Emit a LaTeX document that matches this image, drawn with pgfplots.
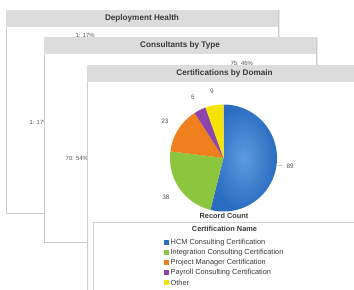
\documentclass[border=0pt]{standalone}
\usepackage{pgfplots}
\pgfplotsset{compat=1.18}
\usepackage{pgfplotstable}
\usepackage{fontspec}
\setmainfont{Liberation Sans}
\definecolor{hcm}{HTML}{2A6CC0}
\definecolor{hcmlight}{HTML}{5A9BE0}
\definecolor{integ}{HTML}{8CC63F}
\definecolor{proj}{HTML}{F07F1E}
\definecolor{pay}{HTML}{8E44AD}
\definecolor{other}{HTML}{F5E400}
\definecolor{titlegray}{HTML}{DCDCDC}
\definecolor{txt}{HTML}{3A3A3A}
\definecolor{lbl}{HTML}{555555}
\pgfplotstableread{
name value
HCM 89
Integration 38
Project 23
Payroll 6
Other 9
}\certtable
\pgfplotstablegetelem{0}{value}\of\certtable\let\vA\pgfplotsretval
\pgfplotstablegetelem{1}{value}\of\certtable\let\vB\pgfplotsretval
\pgfplotstablegetelem{2}{value}\of\certtable\let\vC\pgfplotsretval
\pgfplotstablegetelem{3}{value}\of\certtable\let\vD\pgfplotsretval
\pgfplotstablegetelem{4}{value}\of\certtable\let\vE\pgfplotsretval
\pgfmathsetmacro\tot{\vA+\vB+\vC+\vD+\vE}
\pgfmathsetmacro\aA{90-360*(\vA/\tot)}
\pgfmathsetmacro\aB{\aA-360*(\vB/\tot)}
\pgfmathsetmacro\aC{\aB-360*(\vC/\tot)}
\pgfmathsetmacro\aD{\aC-360*(\vD/\tot)}
\pgfmathsetmacro\aE{\aD-360*(\vE/\tot)}
\newcommand\panel[5]{%
  \fill[gray!18] (#1+1.5,#4-1.5) rectangle (#2+1.5,#3-1.5);
  \filldraw[fill=white, draw=gray!40, line width=0.5pt] (#1,#4) rectangle (#2,#3);
  \fill[titlegray] (#1+0.3,#3-0.3) rectangle (#2-0.3,#3-17);
  \node[font=\fontsize{8.2}{9.5}\selectfont\bfseries, text=txt] at ({(#1+#2)/2},#3-8.5) {#5};
}
\begin{document}
\begin{tikzpicture}[x=1bp,y=1bp]
\useasboundingbox (0,0) rectangle (354,290);
\begin{pgfinterruptboundingbox}
\begin{scope}
\clip (0,0) rectangle (354,290);
\fill[white] (0,0) rectangle (354,290);
% panel 1
\panel{6}{278}{280}{77}{Deployment Health}
\node[font=\fontsize{6}{7}\selectfont, text=lbl, anchor=west] at (72,255) {1: 17\%};
\node[font=\fontsize{6}{7}\selectfont, text=lbl, anchor=west] at (26,168) {1: 17\%};
% panel 2
\panel{44}{316}{253}{48}{Consultants by Type}
\node[font=\fontsize{6}{7}\selectfont, text=lbl, anchor=west] at (227,227) {75: 46\%};
\node[font=\fontsize{6}{7}\selectfont, text=lbl, anchor=west] at (62,132) {70: 54\%};
% panel 3
\panel{87}{362}{225}{-5}{Certifications by Domain}
\begin{axis}[at={(0,0)}, anchor=south west, scale only axis,
  width=354bp, height=290bp, xmin=0, xmax=354, ymin=0, ymax=290,
  hide axis, clip=false]
\addplot[draw=none, inner color=hcmlight, outer color=hcm, domain=\aA:90, samples=90, variable=\t]
  ({223.5+53.5*cos(\t)},{132+53.5*sin(\t)}) -- (axis cs:223.5,132) -- cycle;
\addplot[draw=none, fill=integ, domain=\aB:\aA, samples=50, variable=\t]
  ({223.5+53.5*cos(\t)},{132+53.5*sin(\t)}) -- (axis cs:223.5,132) -- cycle;
\addplot[draw=none, fill=proj, domain=\aC:\aB, samples=40, variable=\t]
  ({223.5+53.5*cos(\t)},{132+53.5*sin(\t)}) -- (axis cs:223.5,132) -- cycle;
\addplot[draw=none, fill=pay, domain=\aD:\aC, samples=20, variable=\t]
  ({223.5+53.5*cos(\t)},{132+53.5*sin(\t)}) -- (axis cs:223.5,132) -- cycle;
\addplot[draw=none, fill=other, domain=\aE:\aD, samples=20, variable=\t]
  ({223.5+53.5*cos(\t)},{132+53.5*sin(\t)}) -- (axis cs:223.5,132) -- cycle;
\end{axis}
% data labels
\begin{scope}[every node/.style={font=\fontsize{6.5}{7.5}\selectfont, text=lbl}]
\draw[gray!50, line width=0.3pt] (277.5,124.5) -- (282,124.5);
\node[anchor=west] at (283,124) {89};
\node at (166,93) {38};
\node at (165,169) {23};
\node at (193,193) {6};
\node at (212,199) {9};
\end{scope}
\node[font=\fontsize{7.4}{8.5}\selectfont\bfseries, text=txt] at (224,74) {Record Count};
% legend
\filldraw[fill=white, draw=gray!35, line width=0.5pt] (93,-5) rectangle (362,68);
\node[font=\fontsize{7.4}{8.5}\selectfont\bfseries, text=txt] at (224.5,61) {Certification Name};
\begin{scope}[every node/.style={font=\fontsize{7.4}{8.5}\selectfont, text=txt, anchor=west, inner sep=0pt}]
\fill[hcm] (164,45) rectangle (169,50); \node at (170.5,47.3) {HCM Consulting Certification};
\fill[integ] (164,35) rectangle (169,40); \node at (170.5,37.3) {Integration Consulting Certification};
\fill[proj] (164,25) rectangle (169,30); \node at (170.5,27.3) {Project Manager Certification};
\fill[pay] (164,15) rectangle (169,20); \node at (170.5,17.3) {Payroll Consulting Certification};
\fill[other] (164,5) rectangle (169,10); \node at (170.5,7.3) {Other};
\end{scope}
\end{scope}
\end{pgfinterruptboundingbox}
\end{tikzpicture}
\end{document}
